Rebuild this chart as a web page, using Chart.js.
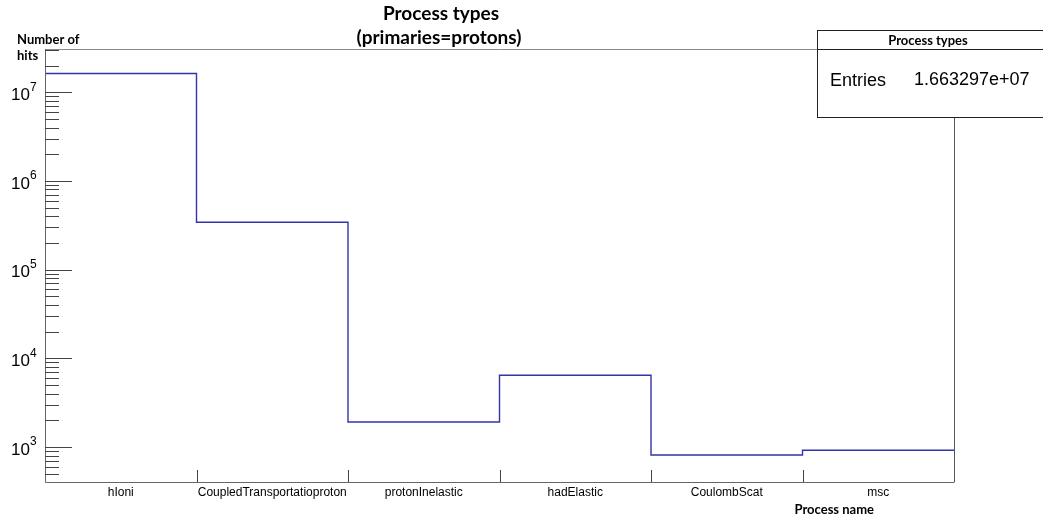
<!DOCTYPE html>
<html>
<head>
<meta charset="utf-8">
<script src="https://cdn.jsdelivr.net/npm/chart.js@4/dist/chart.umd.min.js"></script>
<style>
  body { margin: 0; background: #fff; }
  canvas { display: block; }
</style>
</head>
<body>
<canvas id="grafico" width="1043" height="520"></canvas>
<script>
// datos del histograma
const categories = ['hIoni', 'CoupledTransportatioproton', 'protonInelastic', 'hadElastic', 'CoulombScat', 'msc'];
const hits = [1.628e7, 3.42e5, 1915, 6430, 812, 918];
const yDecades = [3, 4, 5, 6, 7];
const entriesText = '1.663297e+07';

const yMin = 403;
const yMax = 3.07e7;

// puntos del histograma: un punto por borde de bin
const puntos = hits.map((v, i) => ({ x: i, y: v }));
puntos.push({ x: hits.length, y: hits[hits.length - 1] });

const marco = {
    id: 'marco',
    afterDraw(chart) {
        const { ctx, chartArea: a, scales: { x, y } } = chart;
        ctx.save();

        // marco superior y derecho
        ctx.lineWidth = 1;
        ctx.strokeStyle = '#8a8a8a';
        ctx.beginPath();
        ctx.moveTo(a.left, a.top + 0.5);
        ctx.lineTo(a.right, a.top + 0.5);
        ctx.stroke();
        ctx.strokeStyle = '#555';
        ctx.beginPath();
        ctx.moveTo(a.right + 0.5, a.top);
        ctx.lineTo(a.right + 0.5, a.bottom);
        ctx.stroke();

        // ejes
        ctx.strokeStyle = '#666';
        ctx.beginPath();
        ctx.moveTo(a.left + 0.5, a.top);
        ctx.lineTo(a.left + 0.5, a.bottom + 0.5);
        ctx.lineTo(a.right + 0.5, a.bottom + 0.5);
        ctx.stroke();

        // marcas del eje y (log)
        ctx.strokeStyle = '#444';
        for (let e = 2; e <= 7; e++) {
            for (let m = 1; m <= 9; m++) {
                const v = m * Math.pow(10, e);
                if (v < yMin || v > yMax) continue;
                const py = Math.round(y.getPixelForValue(v)) + 0.5;
                const len = m === 1 ? 27 : 14;
                ctx.beginPath();
                ctx.moveTo(a.left, py);
                ctx.lineTo(a.left + len, py);
                ctx.stroke();
            }
        }

        // etiquetas del eje y
        ctx.fillStyle = '#000';
        ctx.textBaseline = 'middle';
        yDecades.forEach(e => {
            const py = y.getPixelForValue(Math.pow(10, e));
            ctx.font = '17px "Liberation Sans", Arial, sans-serif';
            ctx.textAlign = 'right';
            ctx.fillText('10', 30, py + 3);
            ctx.font = '12px "Liberation Sans", Arial, sans-serif';
            ctx.textAlign = 'left';
            ctx.fillText(String(e), 30, py - 5);
        });

        // marcas del eje x en los bordes de los bins
        ctx.strokeStyle = '#444';
        for (let i = 1; i < categories.length; i++) {
            const px = Math.round(x.getPixelForValue(i)) + 0.5;
            ctx.beginPath();
            ctx.moveTo(px, a.bottom);
            ctx.lineTo(px, a.bottom - 12);
            ctx.stroke();
        }

        // etiquetas del eje x
        ctx.font = '12px "Liberation Sans", Arial, sans-serif';
        ctx.textAlign = 'center';
        categories.forEach((c, i) => {
            ctx.fillText(c, x.getPixelForValue(i + 0.5), 493);
        });

        // títulos de los ejes
        ctx.font = 'bold 13px Lato, "Open Sans", sans-serif';
        ctx.textAlign = 'right';
        ctx.fillText('Process name', 874, 510);
        ctx.textAlign = 'left';
        ctx.fillText('Number of', 17, 40);
        ctx.fillText('hits', 17, 56);

        // título
        ctx.font = 'bold 19px Lato, "Open Sans", sans-serif';
        ctx.textAlign = 'center';
        ctx.fillText('Process types', 441, 14);
        ctx.fillText('(primaries=protons)', 439, 38);

        // caja de estadísticas
        const bx = 817.5, by = 30.5, bw = 240, bh = 87;
        ctx.fillStyle = '#fff';
        ctx.fillRect(bx, by, bw, bh);
        ctx.strokeStyle = '#222';
        ctx.strokeRect(bx, by, bw, bh);
        ctx.beginPath();
        ctx.moveTo(bx, 49.5);
        ctx.lineTo(bx + bw, 49.5);
        ctx.stroke();
        ctx.fillStyle = '#000';
        ctx.font = 'bold 13px Lato, "Open Sans", sans-serif';
        ctx.textAlign = 'center';
        ctx.fillText('Process types', 928, 41);
        ctx.font = '18px "Liberation Sans", Arial, sans-serif';
        ctx.textAlign = 'left';
        ctx.fillText('Entries', 830, 81);
        ctx.fillText(entriesText, 914, 80);

        ctx.restore();
    }
};

new Chart(document.getElementById('grafico').getContext('2d'), {
    type: 'line',
    data: {
        datasets: [{
            data: puntos,
            stepped: 'before',
            borderColor: '#3333aa',
            borderWidth: 1.4,
            pointRadius: 0,
            fill: false
        }]
    },
    options: {
        responsive: false,
        animation: false,
        devicePixelRatio: 1,
        layout: { padding: { left: 45, right: 89, top: 49, bottom: 38 } },
        scales: {
            x: { type: 'linear', min: 0, max: categories.length, display: false },
            y: { type: 'logarithmic', min: yMin, max: yMax, display: false }
        },
        plugins: {
            legend: { display: false },
            tooltip: { enabled: false }
        }
    },
    plugins: [marco]
});
</script>
</body>
</html>
